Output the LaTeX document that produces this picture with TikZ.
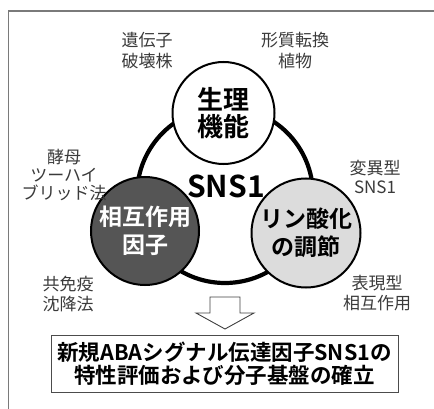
\documentclass[tikz,border=0pt]{standalone}
\usepackage{fontspec}
\setmainfont{Noto Sans CJK JP}[BoldFont={Noto Sans CJK JP Bold}]
\definecolor{framegray}{HTML}{7A7A7A}
\definecolor{labelgray}{HTML}{3A3A3A}
\definecolor{darkfill}{HTML}{555555}
\definecolor{lightfill}{HTML}{DCDCDC}
\begin{document}
\begin{tikzpicture}[x=1pt,y=-1pt,
  topic/.style={circle, draw=black, line width=2pt, inner sep=0pt, minimum size=#1, align=center},
  lbl/.style={text=labelgray, align=center, inner sep=0pt, font=\fontsize{17}{21}\selectfont},
  ctext/.style={font=\bfseries\fontsize{23}{28}\selectfont}]
\useasboundingbox (0,0) rectangle (434,409);
% frame
\draw[framegray, line width=1.2pt] (8.5,409) -- (8.5,11) -- (434,11);
% big ring
\node[circle, draw=black, line width=4.2pt, minimum size=176, inner sep=0pt] (ring) at (225,195) {};
% topic circles
\node[topic=102, fill=white, ctext, font=\bfseries\fontsize{26}{27}\selectfont] (phys) at (223.5,113) {生理\\機能};
\node[topic=108, fill=darkfill, text=white, ctext] (inter) at (145,231) {相互作用\\因子};
\node[topic=109, fill=lightfill, ctext] (phos) at (306,233) {リン酸化\\の調節};
\node[font=\bfseries\fontsize{30}{32}\selectfont, inner sep=0pt] (sns) at (226,186) {SNS1};
% labels
\node[lbl] (l1) at (147,51) {遺伝子\\破壊株};
\node[lbl] (l2) at (295,51) {形質転換\\植物};
\node[lbl, font=\fontsize{17}{18}\selectfont] (l3) at (64,175) {酵母\\ツーハイ\\ブリッド法};
\node[lbl, font=\fontsize{17}{19.5}\selectfont] (l4) at (375,177) {変異型\\SNS1};
\node[lbl, font=\fontsize{17}{19.5}\selectfont] (l5) at (68,294) {共免疫\\沈降法};
\node[lbl, font=\fontsize{17}{20.5}\selectfont] (l6) at (377,293) {表現型\\相互作用};
% block arrow
\coordinate (ar) at (225,297);
\draw[black!75, line width=0.9pt, fill=white]
  ([xshift=-15]ar) -- ([xshift=15]ar) -- ([xshift=15,yshift=-16]ar) -- ([xshift=29,yshift=-16]ar)
  -- ([yshift=-32]ar) -- ([xshift=-29,yshift=-16]ar) -- ([xshift=-15,yshift=-16]ar) -- cycle;
% result box
\node[draw=black!70, line width=1pt, minimum width=347, minimum height=57, inner sep=0pt,
  align=center, font=\bfseries\fontsize{21.5}{23.5}\selectfont] (res) at (224.5,363.5)
  {新規ABAシグナル伝達因子SNS1の\\特性評価および分子基盤の確立};
\end{tikzpicture}
\end{document}
